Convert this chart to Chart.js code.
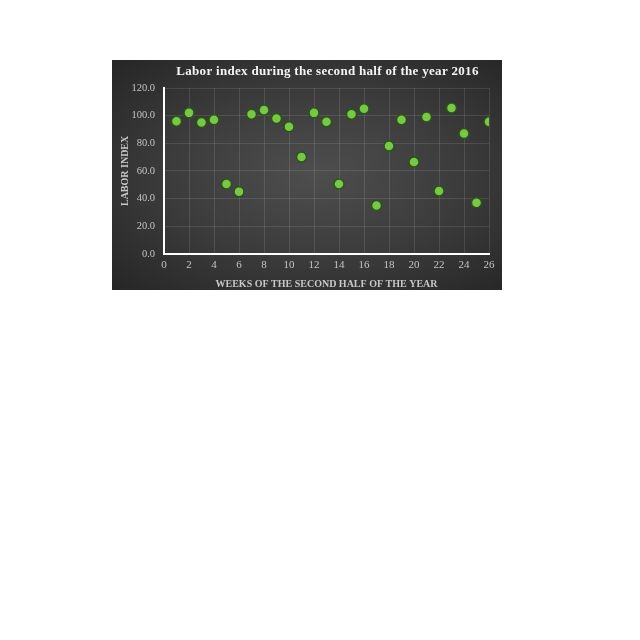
<!DOCTYPE html>
<html>
<head>
<meta charset="utf-8">
<script src="https://cdn.jsdelivr.net/npm/chart.js@4.4.0/dist/chart.umd.min.js"></script>
<style>
  body { margin: 0; background: #fff; }
  #box {
    position: absolute; left: 112px; top: 60px; width: 390px; height: 230px;
    background: radial-gradient(ellipse at 52% 50%, #4e4e4e 0%, #3c3c3c 50%, #262626 100%);
  }
</style>
</head>
<body>
<div id="box"><canvas id="myChart"></canvas></div>
<script>
var weeks = [1, 2, 3, 4, 5, 6, 7, 8, 9, 10, 11, 12, 13, 14, 15, 16, 17, 18, 19, 20, 21, 22, 23, 24, 25, 26];
var laborIndex = [96, 102, 95, 97, 50.5, 45, 101, 104, 98, 92, 70, 102, 95.5, 50.5, 101, 105, 35, 78, 97, 66.5, 99, 45.5, 105.5, 87, 37, 95.5];
var chartTitle = 'Labor index during the second half of the year 2016';

var points = weeks.map(function (w, i) { return { x: w, y: laborIndex[i] }; });

var serif = "'Liberation Serif', 'DejaVu Serif', serif";
var ctx = document.getElementById('myChart');

// title drawn over the plot area, with letter spacing like the original
var spacedTitle = {
  id: 'spacedTitle',
  afterDraw: function (chart) {
    var c = chart.ctx, a = chart.chartArea;
    c.save();
    c.font = 'bold 13px ' + serif;
    c.letterSpacing = '0.3px';
    c.fillStyle = '#f4f4f4';
    c.textAlign = 'center';
    c.textBaseline = 'middle';
    c.fillText(chartTitle, (a.left + a.right) / 2 + 1, 12);
    c.restore();
  }
};

var chart = new Chart(ctx, {
  type: 'scatter',
  data: {
    datasets: [{
      label: 'Labor index',
      data: points,
      backgroundColor: '#78c845',
      borderColor: '#2a5518',
      borderWidth: 1.5,
      pointRadius: 5,
      pointHoverRadius: 5
    }]
  },
  options: {
    responsive: true,
    maintainAspectRatio: false,
    animation: false,
    layout: { padding: { left: 0, right: 13, top: 28, bottom: 0 } },
    plugins: {
      legend: { display: false },
      tooltip: { enabled: false }
    },
    scales: {
      x: {
        min: 0, max: 26,
        ticks: { stepSize: 2, color: '#c4c4c4', font: { family: serif, size: 11 }, padding: 5 },
        grid: { color: 'rgba(255,255,255,0.11)', tickLength: 0 },
        border: { color: '#ffffff', width: 2 },
        title: {
          display: true, text: 'WEEKS OF THE SECOND HALF OF THE YEAR',
          color: '#c8c8c8', font: { family: serif, size: 10, weight: 'bold' }, padding: { top: 1, bottom: 0 }
        }
      },
      y: {
        min: 0, max: 120,
        afterFit: function (s) { s.width = 52; },
        ticks: {
          stepSize: 20, color: '#c4c4c4', font: { family: serif, size: 10.5 }, padding: 9,
          callback: function (v) { return v.toFixed(1); }
        },
        grid: { color: 'rgba(255,255,255,0.11)', tickLength: 0 },
        border: { color: '#ffffff', width: 2 },
        title: {
          display: true, text: 'LABOR INDEX',
          color: '#c8c8c8', font: { family: serif, size: 10, weight: 'bold' }, padding: { top: 7, bottom: 0 }
        }
      }
    }
  },
  plugins: [spacedTitle]
});
</script>
</body>
</html>
